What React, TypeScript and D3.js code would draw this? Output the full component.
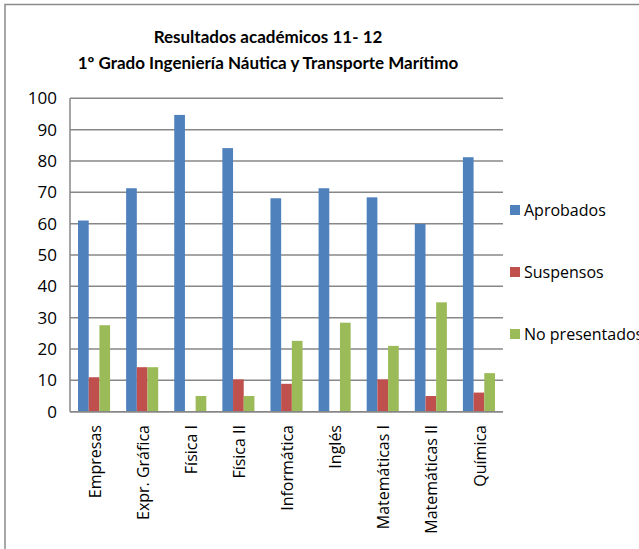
import React from "react";
import * as d3 from "d3";

const categories = ["Empresas", "Expr. Gráfica", "Física I", "Física II", "Informática", "Inglés", "Matemáticas I", "Matemáticas II", "Química"];
const seriesNames = ["Aprobados", "Suspensos", "No presentados"];
const aprobados = [61, 71.3, 94.7, 84.1, 68.1, 71.3, 68.4, 59.9, 81.2];
const suspensos = [11, 14.2, 0, 10.3, 8.9, 0, 10.3, 5, 6.1];
const noPresentados = [27.6, 14.2, 5, 5, 22.6, 28.4, 21, 34.9, 12.3];
const yTicks = [0, 10, 20, 30, 40, 50, 60, 70, 80, 90, 100];
const titleLines = ["Resultados académicos 11- 12", "1º Grado Ingeniería Náutica y Transporte Marítimo"];
const colors = ["#4F81BD", "#C0504D", "#9BBB59"];

export default function App() {
  const W = 639, H = 549;
  const left = 70, right = 503, top = 98.3, bottom = 411.7;
  const font = "'Open Sans', sans-serif";
  const x = d3.scaleBand<string>().domain(categories).range([left, right]).paddingInner(1.5 / 4.5).paddingOuter(0.75 / 4.5);
  const x1 = d3.scaleBand<string>().domain(seriesNames).range([0, x.bandwidth()]);
  const y = d3.scaleLinear().domain([0, 100]).range([bottom, top]);
  const data = [aprobados, suspensos, noPresentados];
  const legendY = [210, 272, 334];

  return (
    <svg width={W} height={H} style={{ position: "absolute", left: 0, top: 0, background: "#fff" }} fontFamily={font}>
      <rect x={5} y={4.5} width={700} height={700} fill="#fff" stroke="#8a8a8a" strokeWidth={1.5} />
      {titleLines.map((t, i) => (
        <text key={t} x={268} y={42.5 + i * 26.5} textAnchor="middle" fontWeight="bold" fontSize={17} fontFamily="Lato, sans-serif" fill="#000">{t}</text>
      ))}
      {yTicks.map((t) => (
        <g key={t}>
          <line x1={left} x2={right} y1={y(t)} y2={y(t)} stroke="#878787" strokeWidth={1.5} />
          <text x={57} y={y(t)} dy="0.35em" textAnchor="end" fontSize={17} fill="#000">{t}</text>
        </g>
      ))}
      <line x1={left} x2={left} y1={top} y2={bottom} stroke="#878787" strokeWidth={1.5} />
      {categories.map((c, i) => (
        <g key={c}>
          {data.map((s, j) => (
            <rect key={j} x={(x(c) as number) + (x1(seriesNames[j]) as number)} y={y(s[i])} width={x1.bandwidth()} height={bottom - y(s[i])} fill={colors[j]} />
          ))}
          <text transform={`translate(${(x(c) as number) + x.bandwidth() / 2 + 1},425) rotate(-90)`} textAnchor="end" dy="0.35em" fontSize={16} fill="#000">{c}</text>
        </g>
      ))}
      <line x1={left} x2={right} y1={bottom} y2={bottom} stroke="#878787" strokeWidth={1.5} />
      {seriesNames.map((s, i) => (
        <g key={s}>
          <rect x={510} y={legendY[i] - 5} width={10} height={10} fill={colors[i]} />
          <text x={524} y={legendY[i]} dy="0.35em" fontSize={16} fill="#000">{s}</text>
        </g>
      ))}
    </svg>
  );
}
